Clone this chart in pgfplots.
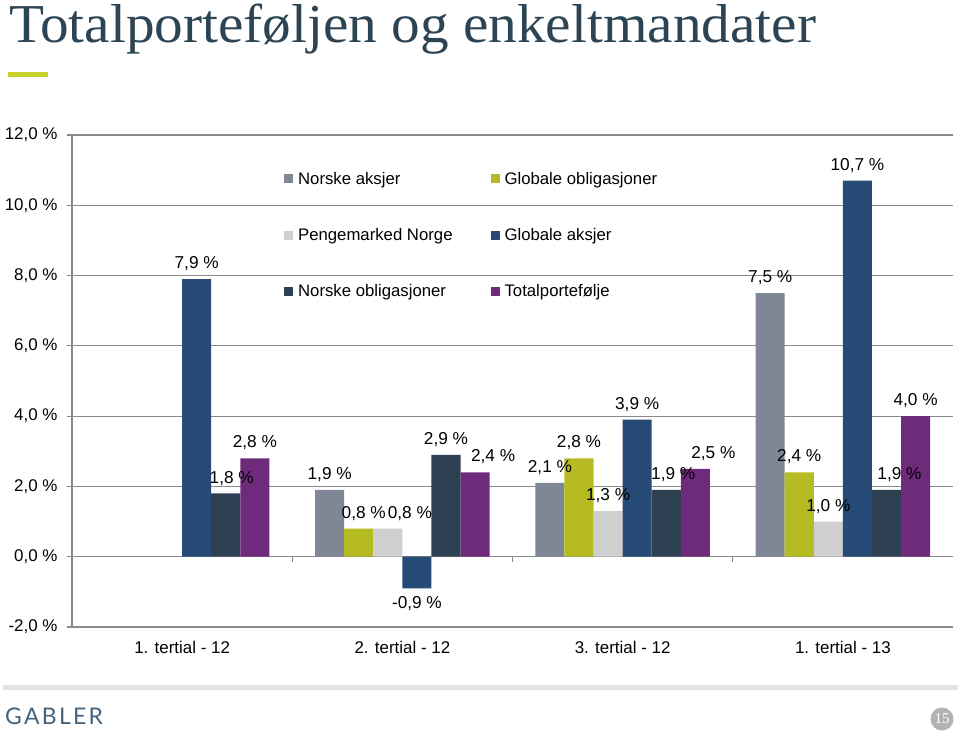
\documentclass[border=0pt]{standalone}
\usepackage{graphicx}
\usepackage{pgfplots}
\pgfplotsset{compat=1.18}
\usepackage{fontspec}
\setmainfont{Liberation Sans}
\newfontfamily\titlefont{Liberation Serif}
\newfontfamily\logofont[LetterSpace=10]{Lato}
\definecolor{cNA}{HTML}{7F8796}
\definecolor{cGO}{HTML}{B5BB20}
\definecolor{cPM}{HTML}{CFCFCF}
\definecolor{cGA}{HTML}{264B77}
\definecolor{cNO}{HTML}{2E4153}
\definecolor{cTP}{HTML}{6E2B7C}
\definecolor{titlecol}{HTML}{2D4454}
\definecolor{titlegreen}{HTML}{C8D12C}
\definecolor{gridgray}{HTML}{8A8A8A}
\definecolor{logocol}{HTML}{44627D}
\begin{document}
\begin{tikzpicture}
\begin{scope}[x=1bp,y=1bp]
\useasboundingbox (0,0) rectangle (960,732);
\node[anchor=base west, inner sep=0, text=titlecol, font=\titlefont\fontsize{55}{58}\selectfont] at (9,689) {\scalebox{1.045}[1]{Totalporteføljen og enkeltmandater}};
\fill[titlegreen] (8,655) rectangle (48,660);
\fill[black!11] (3,42) rectangle (958,47);
\node[anchor=base west, inner sep=0, text=logocol, font=\logofont\fontsize{23}{26}\selectfont] at (5,7) {GABLER};
\fill[black!30] (942,13) circle (11.5);
\node[text=white, font=\titlefont\fontsize{15}{16}\selectfont, inner sep=0] at (942,13) {15};
\end{scope}
\begin{axis}[
  at={(72bp,105bp)}, anchor=south west,
  scale only axis, width=881bp, height=492bp,
  ymin=-2, ymax=12, ytick={-2,0,...,12},
  xmin=-0.5, xmax=3.5, xtick={0,1,2,3},
  xticklabels={1. tertial - 12, 2. tertial - 12, 3. tertial - 12, 1. tertial - 13},
  /pgf/number format/assume math mode=true,
  yticklabel={\pgfmathprintnumber[fixed,fixed zerofill,precision=1,use comma]{\tick}~\%},
  ybar=0pt, bar width=0.132,
  axis y line*=left,
  x axis line style={draw=none},
  y axis line style={gridgray, line width=1.2bp},
  xtick style={draw=none},
  ytick style={gridgray, line width=1.2bp},
  tick align=outside, major tick length=5bp,
  ymajorgrids, major grid style={gridgray, line width=1.2bp},
  tick label style={font=\fontsize{17}{19}\selectfont, text=black},
  xticklabel style={yshift=-6bp},
  yticklabel style={xshift=-6bp},
  visualization depends on={\thisrow{dx}\as\labeldx},
  nodes near coords={\pgfmathprintnumber[fixed,fixed zerofill,precision=1,use comma]{\pgfplotspointmeta}~\%},
  every node near coord/.append style={font=\fontsize{17.3}{19}\selectfont, text=black, inner xsep=1bp, inner ysep=8bp, xshift=\labeldx bp},
  legend columns=2,
  legend style={draw=none, fill=none, at={(0.2372,0.933)}, anchor=north west,
    font=\fontsize{16.8}{18}\selectfont, row sep=38.5bp,
    /tikz/every even column/.append style={column sep=36bp}},
  legend cell align=left,
  legend image code/.code={\fill[#1] (0bp,-4.5bp) rectangle (9bp,4.5bp); \path (9bp,0bp) -- (12bp,0bp);},
]
% Norske aksjer
\addplot[fill=cNA, draw=none] table[row sep=\\] {x y dx\\ 1 1.9 0\\ 2 2.1 0\\ 3 7.5 0\\};
% Globale obligasjoner
\addplot[fill=cGO, draw=none] table[row sep=\\] {x y dx\\ 1 0.8 5\\ 2 2.8 0\\ 3 2.4 0\\};
% Pengemarked Norge
\addplot[fill=cPM, draw=none] table[row sep=\\] {x y dx\\ 1 0.8 22\\ 2 1.3 0\\ 3 1.0 0\\};
% Globale aksjer
\addplot[fill=cGA, draw=none] table[row sep=\\] {x y dx\\ 0 7.9 0\\ 1 -0.9 0\\ 2 3.9 0\\ 3 10.7 0\\};
% Norske obligasjoner
\addplot[fill=cNO, draw=none] table[row sep=\\] {x y dx\\ 0 1.8 6\\ 1 2.9 0\\ 2 1.9 7\\ 3 1.9 13\\};
% Totalportefolje
\addplot[fill=cTP, draw=none] table[row sep=\\] {x y dx\\ 0 2.8 0\\ 1 2.4 18\\ 2 2.5 18\\ 3 4.0 0\\};
\legend{Norske aksjer, Globale obligasjoner, Pengemarked Norge, Globale aksjer, Norske obligasjoner, Totalportefølje}
\draw[gridgray, line width=1.2bp] (axis cs:0.5,0) -- ([yshift=-5bp]axis cs:0.5,0);
\draw[gridgray, line width=1.2bp] (axis cs:1.5,0) -- ([yshift=-5bp]axis cs:1.5,0);
\draw[gridgray, line width=1.2bp] (axis cs:2.5,0) -- ([yshift=-5bp]axis cs:2.5,0);
\end{axis}
\end{tikzpicture}
\end{document}
